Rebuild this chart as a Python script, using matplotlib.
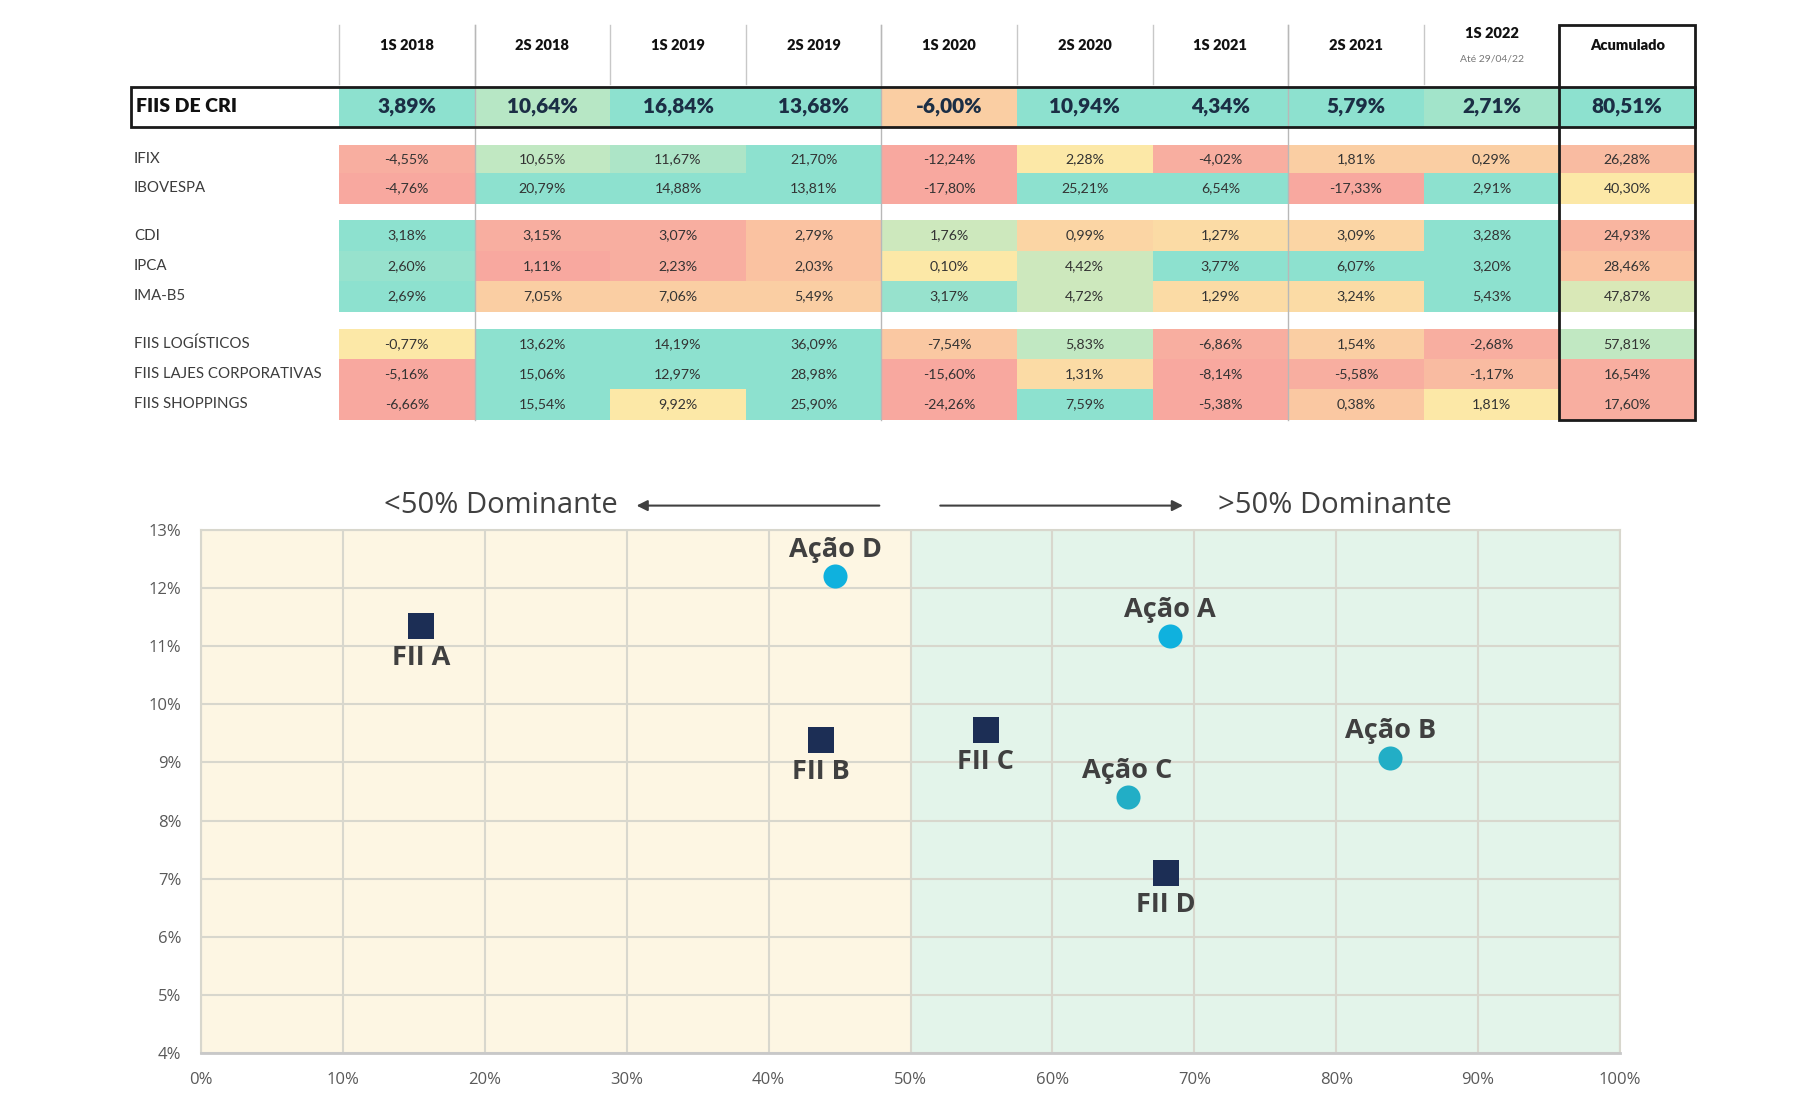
import matplotlib
matplotlib.use("Agg")
import matplotlib.pyplot as plt
import numpy as np
from matplotlib.colors import LinearSegmentedColormap
from matplotlib.patches import Rectangle

# ---------------- data: table ----------------
periods = ["1S 2018", "2S 2018", "1S 2019", "2S 2019", "1S 2020",
           "2S 2020", "1S 2021", "2S 2021", "1S 2022", "Acumulado"]
period_note = "Até 29/04/22"
row_labels = ["FIIS DE CRI", "IFIX", "IBOVESPA", "CDI", "IPCA", "IMA-B5",
              "FIIS LOGÍSTICOS", "FIIS LAJES CORPORATIVAS", "FIIS SHOPPINGS"]

fiis_cri   = [3.89, 10.64, 16.84, 13.68, -6.00, 10.94, 4.34, 5.79, 2.71, 80.51]
ifix       = [-4.55, 10.65, 11.67, 21.70, -12.24, 2.28, -4.02, 1.81, 0.29, 26.28]
ibovespa   = [-4.76, 20.79, 14.88, 13.81, -17.80, 25.21, 6.54, -17.33, 2.91, 40.30]
cdi        = [3.18, 3.15, 3.07, 2.79, 1.76, 0.99, 1.27, 3.09, 3.28, 24.93]
ipca       = [2.60, 1.11, 2.23, 2.03, 0.10, 4.42, 3.77, 6.07, 3.20, 28.46]
ima_b5     = [2.69, 7.05, 7.06, 5.49, 3.17, 4.72, 1.29, 3.24, 5.43, 47.87]
fiis_log   = [-0.77, 13.62, 14.19, 36.09, -7.54, 5.83, -6.86, 1.54, -2.68, 57.81]
fiis_lajes = [-5.16, 15.06, 12.97, 28.98, -15.60, 1.31, -8.14, -5.58, -1.17, 16.54]
fiis_shop  = [-6.66, 15.54, 9.92, 25.90, -24.26, 7.59, -5.38, 0.38, 1.81, 17.60]

# conditional-format heat score (0 = worst, 1 = best)
heat_cri   = [1.0, 0.8, 1.0, 1.0, 0.3, 1.0, 1.0, 1.0, 0.9, 1.0]
heat_ifix  = [0.05, 0.75, 0.85, 1.0, 0.0, 0.5, 0.05, 0.3, 0.3, 0.15]
heat_ibov  = [0.0, 1.0, 1.0, 1.0, 0.0, 1.0, 1.0, 0.0, 1.0, 0.5]
heat_cdi   = [1.0, 0.05, 0.05, 0.2, 0.7, 0.35, 0.4, 0.35, 1.0, 0.1]
heat_ipca  = [0.95, 0.0, 0.05, 0.2, 0.5, 0.7, 1.0, 1.0, 1.0, 0.2]
heat_ima   = [1.0, 0.3, 0.3, 0.3, 0.95, 0.7, 0.4, 0.4, 1.0, 0.65]
heat_log   = [0.5, 1.0, 1.0, 1.0, 0.25, 0.75, 0.05, 0.3, 0.05, 0.75]
heat_lajes = [0.0, 1.0, 1.0, 1.0, 0.0, 0.4, 0.0, 0.05, 0.15, 0.05]
heat_shop  = [0.0, 1.0, 0.5, 1.0, 0.0, 1.0, 0.0, 0.25, 0.5, 0.05]

# ---------------- data: scatter ----------------
assets    = ["FII A", "FII B", "FII C", "FII D", "Ação A", "Ação B", "Ação C", "Ação D"]
dominance = [15.5, 43.7, 55.3, 68.0, 68.3, 83.8, 65.3, 44.7]
returns   = [11.35, 9.38, 9.56, 7.09, 11.17, 9.08, 8.40, 12.20]
x_ticks = [0, 10, 20, 30, 40, 50, 60, 70, 80, 90, 100]
y_ticks = [4, 5, 6, 7, 8, 9, 10, 11, 12, 13]
left_note = "<50% Dominante"
right_note = ">50% Dominante"

# ---------------- figure ----------------
W, H = 1814, 1112
fig = plt.figure(figsize=(W / 100, H / 100), dpi=100)
fig.patch.set_facecolor("white")

TFONT = ["Lato", "DejaVu Sans"]
CFONT = ["Open Sans", "DejaVu Sans"]

heat_cmap = LinearSegmentedColormap.from_list(
    "heat", [(0.0, "#F8A89F"), (0.25, "#FAC8A2"), (0.5, "#FCE8A7"),
             (0.75, "#C2E8C2"), (1.0, "#8DE1CF")])

# table axes in pixel units
tax = fig.add_axes([0, 0, 1, 1])
tax.set_xlim(0, W)
tax.set_ylim(H, 0)
tax.axis("off")

label_x0 = 131
data_x0 = 339
col_w = 135.6
col_edges = data_x0 + col_w * np.arange(len(periods) + 1)
col_centers = (col_edges[:-1] + col_edges[1:]) / 2
header_top, header_bot = 25, 84
table_bot = 420

row_values = [fiis_cri, ifix, ibovespa, cdi, ipca, ima_b5, fiis_log, fiis_lajes, fiis_shop]
row_heat = [heat_cri, heat_ifix, heat_ibov, heat_cdi, heat_ipca, heat_ima,
            heat_log, heat_lajes, heat_shop]
row_tops = [87, 145, 173, 220, 251, 281, 329, 359, 389]
row_heights = [40, 28, 31, 31, 30, 31, 30, 30, 31]

def fmt(v):
    return f"{v:.2f}%".replace(".", ",")

for i, (lab, vals, heat) in enumerate(zip(row_labels, row_values, row_heat)):
    y0 = row_tops[i]
    y1 = y0 + row_heights[i]
    tax.pcolormesh(col_edges, [y0, y1], np.array(heat)[None, :],
                   cmap=heat_cmap, vmin=0, vmax=1, shading="flat", zorder=1)
    yc = (y0 + y1) / 2
    if i == 0:
        tax.text(label_x0 + 5, yc, lab, ha="left", va="center", fontsize=14,
                 fontweight="heavy", color="#111111", family=TFONT, zorder=5)
        for xc, v in zip(col_centers, vals):
            tax.text(xc, yc, fmt(v), ha="center", va="center", fontsize=15,
                     fontweight="heavy", color="#1B2E45", family=TFONT, zorder=5)
    else:
        tax.text(label_x0 + 3, yc, lab, ha="left", va="center", fontsize=10.8,
                 color="#3C3C3C", family=TFONT, zorder=5)
        for xc, v in zip(col_centers, vals):
            tax.text(xc, yc, fmt(v), ha="center", va="center", fontsize=10.2,
                     color="#333333", family=TFONT, zorder=5)

# header
for j, (xc, p) in enumerate(zip(col_centers, periods)):
    if p == "1S 2022":
        tax.text(xc, 34, p, ha="center", va="center", fontsize=10.5,
                 fontweight="heavy", color="#111111", family=TFONT)
        tax.text(xc, 59, period_note, ha="center", va="center", fontsize=7.5,
                 color="#777777", family=TFONT)
    else:
        tax.text(xc, 45, p, ha="center", va="center", fontsize=10.5,
                 fontweight="heavy", color="#111111", family=TFONT)

# header separators
for xe in col_edges[:-2]:
    tax.plot([xe, xe], [header_top, header_bot], color="#C8C8C8", lw=1, zorder=3)
# long group separators
for k in (1, 4, 7):
    tax.plot([col_edges[k]] * 2, [header_top, table_bot], color="#B8B8B8", lw=1, zorder=3)
# FIIS DE CRI box
cri_top, cri_bot = row_tops[0], row_tops[0] + row_heights[0]
tax.add_patch(Rectangle((label_x0, cri_top), col_edges[-1] - label_x0, cri_bot - cri_top,
                        fill=False, ec="#1A1A1A", lw=2, zorder=6))
# Acumulado box
tax.add_patch(Rectangle((col_edges[-2], header_top), col_edges[-1] - col_edges[-2],
                        table_bot - header_top, fill=False, ec="#1A1A1A", lw=2, zorder=6))

# ---------------- scatter ----------------
ax_l, ax_r, ax_t, ax_b = 201, 1620, 530, 1053
ax = fig.add_axes([ax_l / W, 1 - ax_b / H, (ax_r - ax_l) / W, (ax_b - ax_t) / H])
ax.set_xlim(0, 100)
ax.set_ylim(4, 13)
ax.axvspan(0, 50, color="#FDF6E3", zorder=0)
ax.axvspan(50, 100, color="#E3F4EA", zorder=0)
ax.set_xticks(x_ticks)
ax.set_yticks(y_ticks)
ax.set_xticklabels([f"{v}%" for v in x_ticks])
ax.set_yticklabels([f"{v}%" for v in y_ticks])
ax.grid(True, color="#D8D7CD", lw=1.5, zorder=1)
ax.set_axisbelow(True)
ax.tick_params(length=0, labelsize=12, labelcolor="#595959")
ax.tick_params(axis="y", pad=14)
ax.tick_params(axis="x", pad=14)
for lbl in ax.get_xticklabels() + ax.get_yticklabels():
    lbl.set_family(CFONT)
for side, sp in ax.spines.items():
    sp.set_color("#D8D7CD")
    sp.set_linewidth(1.5)
ax.spines["bottom"].set_color("#C8C8C8")
ax.spines["bottom"].set_linewidth(2)

circle_colors = {"Ação A": "#0FB1DE", "Ação D": "#0FB1DE",
                 "Ação B": "#22AEC6", "Ação C": "#22AEC6"}
for name, xv, yv in zip(assets, dominance, returns):
    if name.startswith("FII"):
        ax.scatter([xv], [yv], marker="s", s=360, color="#1C2E55", zorder=4,
                   linewidths=0)
        ax.annotate(name, (xv, yv), xytext=(0, -23), textcoords="offset points",
                    ha="center", va="center", fontsize=19.5, fontweight="bold",
                    color="#404040", family=CFONT, zorder=5)
    else:
        ax.scatter([xv], [yv], marker="o", s=300, color=circle_colors[name], zorder=4,
                   linewidths=0)
        ax.annotate(name, (xv, yv), xytext=(0, 19), textcoords="offset points",
                    ha="center", va="center", fontsize=19.5, fontweight="bold",
                    color="#404040", family=CFONT, zorder=5)

# dominance annotations
ay = 13.42
ax.annotate("", xy=(30.5, ay), xytext=(48.0, ay), annotation_clip=False,
            arrowprops=dict(arrowstyle="-|>", color="#404040", lw=1.5, mutation_scale=16))
ax.annotate("", xy=(69.4, ay), xytext=(51.9, ay), annotation_clip=False,
            arrowprops=dict(arrowstyle="-|>", color="#404040", lw=1.5, mutation_scale=16))
ax.text(29.4, ay, left_note, ha="right", va="center", fontsize=21, color="#404040",
        family=CFONT, clip_on=False)
ax.text(71.7, ay, right_note, ha="left", va="center", fontsize=21, color="#404040",
        family=CFONT, clip_on=False)

fig.savefig("out.png", dpi=100, facecolor="white")
